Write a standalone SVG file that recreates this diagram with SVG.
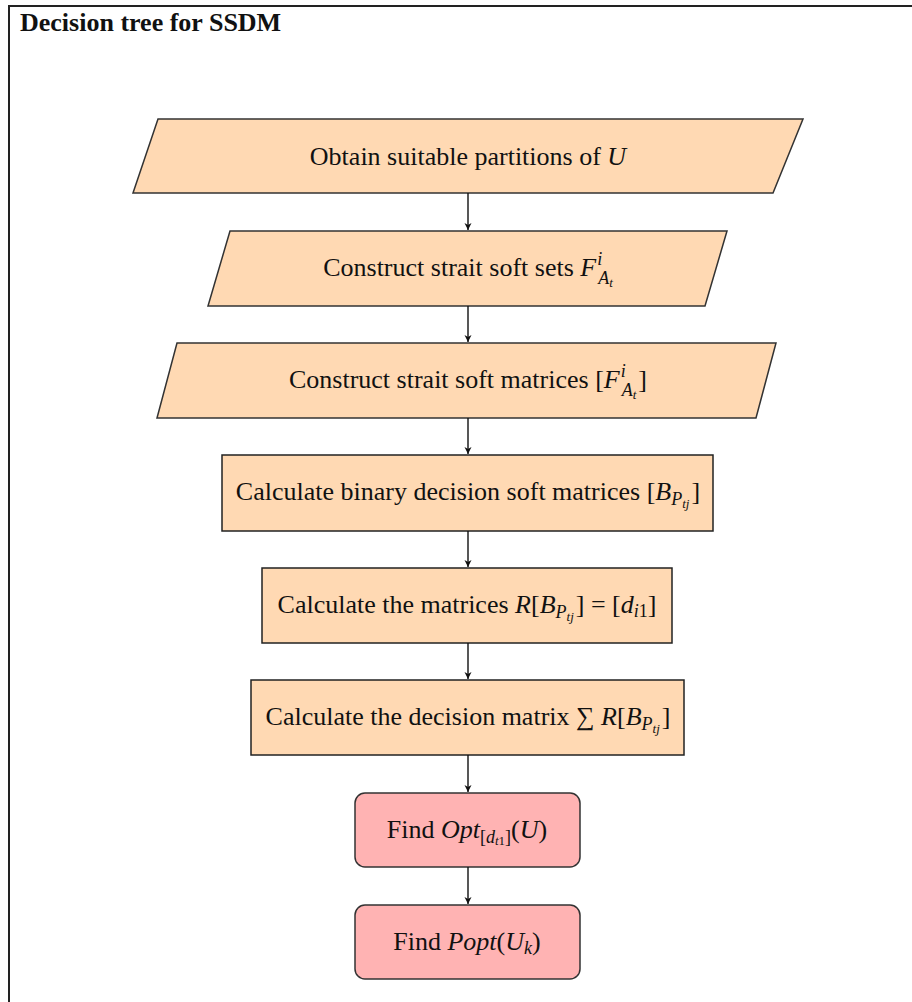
<svg xmlns="http://www.w3.org/2000/svg" width="912" height="1002" viewBox="0 0 912 1002">
<style>
.frame{fill:none;stroke:#222;stroke-width:2}
.io{fill:#FFD9B3;stroke:#333;stroke-width:1.5}
.pr{fill:#FFD9B3;stroke:#222;stroke-width:1.5}
.en{fill:#FFB3B3;stroke:#333;stroke-width:1.5}
.t{font-family:"Liberation Serif","Times New Roman",serif;font-size:26px;fill:#111;text-anchor:middle}
.title{font-family:"Liberation Serif","Times New Roman",serif;font-size:26px;font-weight:bold;fill:#111}
.i{font-style:italic}
.s{font-size:18px}
.ss{font-size:13px}
.c{stroke:#111;stroke-width:1.4;fill:none}
</style>
<defs>
<marker id="ah" markerWidth="10" markerHeight="10" refX="8" refY="5" orient="auto" markerUnits="userSpaceOnUse">
<path d="M1,1.5 L8,5 L1,8.5 L3,5 Z" fill="#111"/>
</marker>
</defs>
<rect x="0" y="0" width="912" height="1002" fill="#fff"/>
<path class="frame" d="M9,1002 V6 H912"/>
<text class="title" x="20" y="31">Decision tree for SSDM</text>

<g id="n1">
<polygon class="io" points="158,119 803,119 773,193 133,193"/>
<text class="t" x="468" y="165">Obtain suitable partitions of <tspan class="i">U</tspan></text>
</g>
<g id="n2">
<polygon class="io" points="230,231 727,231 705,306 208,306"/>
<text class="t" x="468" y="276">Construct strait soft sets <tspan class="i">F</tspan><tspan class="s i" dx="1" dy="-11">i</tspan><tspan class="s i" dx="-4" dy="19">A</tspan><tspan class="ss i" dy="3">t</tspan></text>
</g>
<g id="n3">
<polygon class="io" points="177,343 776,343 756,418 157,418"/>
<text class="t" x="468" y="388">Construct strait soft matrices [<tspan class="i">F</tspan><tspan class="s i" dx="1" dy="-11">i</tspan><tspan class="s i" dx="-4" dy="19">A</tspan><tspan class="ss i" dy="3">t</tspan><tspan dx="2" dy="-11">]</tspan></text>
</g>
<g id="n4">
<rect class="pr" x="222" y="455" width="491" height="76"/>
<text class="t" x="468" y="500">Calculate binary decision soft matrices [<tspan class="i">B</tspan><tspan class="s i" dy="5">P</tspan><tspan class="ss i" dy="3">tj</tspan><tspan dx="2" dy="-8">]</tspan></text>
</g>
<g id="n5">
<rect class="pr" x="262" y="568" width="410" height="75"/>
<text class="t" x="467" y="613">Calculate the matrices <tspan class="i">R</tspan>[<tspan class="i">B</tspan><tspan class="s i" dy="5">P</tspan><tspan class="ss i" dy="3">tj</tspan><tspan dx="2" dy="-8">] = [</tspan><tspan class="i">d</tspan><tspan class="s" dy="4"><tspan class="i">i</tspan>1</tspan><tspan dy="-4">]</tspan></text>
</g>
<g id="n6">
<rect class="pr" x="251" y="680" width="433" height="75"/>
<text class="t" x="468" y="725">Calculate the decision matrix ∑ <tspan class="i">R</tspan>[<tspan class="i">B</tspan><tspan class="s i" dy="5">P</tspan><tspan class="ss i" dy="3">tj</tspan><tspan dx="2" dy="-8">]</tspan></text>
</g>
<g id="n7">
<rect class="en" x="355" y="793" width="225" height="74" rx="10"/>
<text class="t" x="467" y="838">Find <tspan class="i">Opt</tspan><tspan class="s" dy="5">[<tspan class="i">d</tspan><tspan class="ss" dy="2"><tspan class="i">t</tspan>1</tspan><tspan dy="-2">]</tspan></tspan><tspan dy="-5">(</tspan><tspan class="i">U</tspan>)</text>
</g>
<g id="n8">
<rect class="en" x="355" y="905" width="225" height="74" rx="10"/>
<text class="t" x="467" y="950">Find <tspan class="i">Popt</tspan>(<tspan class="i">U</tspan><tspan class="s i" dy="4">k</tspan><tspan dy="-4">)</tspan></text>
</g>

<g id="connectors">
<line class="c" x1="468" y1="193" x2="468" y2="230" marker-end="url(#ah)"/>
<line class="c" x1="468" y1="306" x2="468" y2="342" marker-end="url(#ah)"/>
<line class="c" x1="468" y1="418" x2="468" y2="454" marker-end="url(#ah)"/>
<line class="c" x1="468" y1="531" x2="468" y2="567" marker-end="url(#ah)"/>
<line class="c" x1="468" y1="643" x2="468" y2="679" marker-end="url(#ah)"/>
<line class="c" x1="468" y1="755" x2="468" y2="792" marker-end="url(#ah)"/>
<line class="c" x1="468" y1="867" x2="468" y2="904" marker-end="url(#ah)"/>
</g>
</svg>
